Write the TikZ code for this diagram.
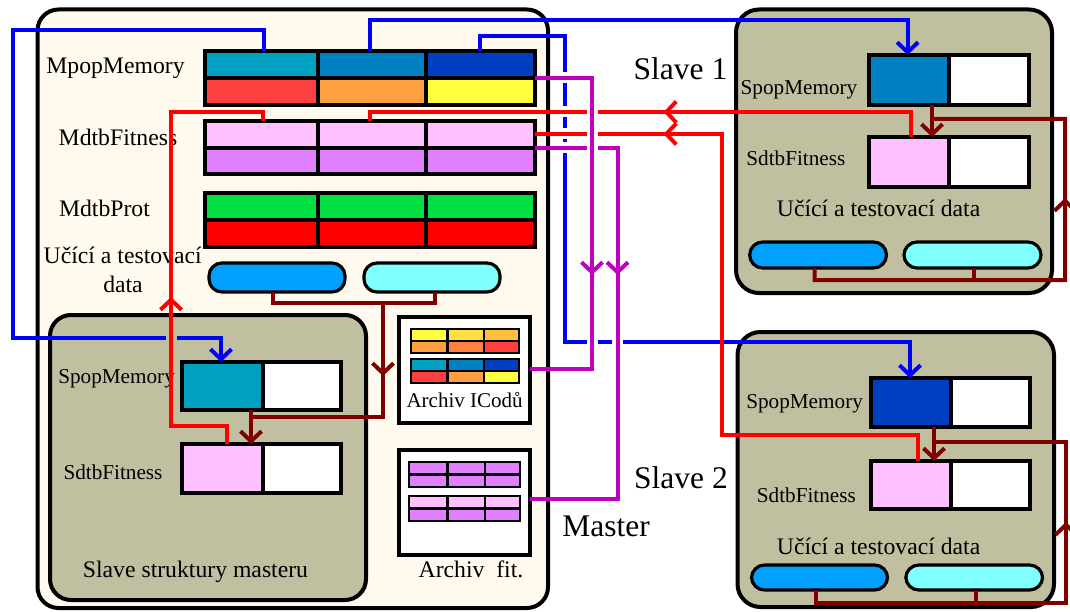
\documentclass[tikz,border=0pt]{standalone}
\usepackage{fontspec}
\setmainfont{Liberation Serif}
\usetikzlibrary{arrows.meta,fit}

\definecolor{cream}{HTML}{FFF9EE}
\definecolor{olive}{HTML}{C0C0A0}
\definecolor{tealA}{HTML}{00A0C0}
\definecolor{tealB}{HTML}{0080C0}
\definecolor{tealC}{HTML}{0040C0}
\definecolor{redA}{HTML}{FF4040}
\definecolor{orangeA}{HTML}{FFA040}
\definecolor{orangeB}{HTML}{FF8040}
\definecolor{yellowA}{HTML}{FFFF40}
\definecolor{goldA}{HTML}{FFE040}
\definecolor{goldB}{HTML}{FFC040}
\definecolor{pinkA}{HTML}{FFC0FF}
\definecolor{purpleA}{HTML}{E080FF}
\definecolor{greenA}{HTML}{00E040}
\definecolor{redB}{HTML}{FF0000}
\definecolor{pillA}{HTML}{00A0FF}
\definecolor{pillB}{HTML}{80FFFF}
\definecolor{wblue}{HTML}{0000FF}
\definecolor{wred}{HTML}{FF0000}
\definecolor{wmaroon}{HTML}{800000}
\definecolor{wmag}{HTML}{C000C0}

% one row of three coloured cells: y1 y2 x1 x2 x3 x4 c1 c2 c3
\newcommand\rowfill[9]{%
  \fill[#7] (#3,#1) rectangle (#4,#2);
  \fill[#8] (#4,#1) rectangle (#5,#2);
  \fill[#9] (#5,#1) rectangle (#6,#2);}
% outline and dividers of a 3x2 table: name x1 y1 x2 y2 xa xb ym style
\newcommand\tbldraw[9]{%
  \node[#9, fit={(#2,#3) (#4,#5)}] (#1) {};
  \draw[#9] (#6,#3) -- (#6,#5);
  \draw[#9] (#7,#3) -- (#7,#5);
  \draw[#9] (#2,#8) -- (#4,#8);}
% two-cell slave table: name x1 y1 x2 y2 xm colour
\newcommand\twocell[7]{%
  \fill[#7] (#2,#3) rectangle (#6,#5);
  \fill[white] (#6,#3) rectangle (#4,#5);
  \node[tbl, fit={(#2,#3) (#4,#5)}] (#1) {};
  \draw[tbl] (#6,#3) -- (#6,#5);}
% breaks in a lower line where another line passes over it
\newcommand\gapv[3]{\fill[#3] ({#1-2.8},{#2-5.5}) rectangle ({#1+2.8},{#2+5.5});}
\newcommand\gaph[3]{\fill[#3] ({#1-5.5},{#2-2.8}) rectangle ({#1+5.5},{#2+2.8});}

\begin{document}
\begin{tikzpicture}[x=1pt,y=-1pt,
  box/.style={draw=black, line width=4pt, rounded corners=21pt, inner sep=0pt, outer sep=0pt},
  tbl/.style={draw=black, line width=4pt, inner sep=0pt, outer sep=0pt},
  mini/.style={draw=black, line width=2.6pt, inner sep=0pt, outer sep=0pt},
  abox/.style={draw=black, line width=4.5pt, fill=white, inner sep=0pt, outer sep=0pt},
  pill/.style={draw=black, line width=3.2pt, rounded corners=13pt, inner sep=0pt, outer sep=0pt},
  wire/.style={line width=4pt},
  arrowend/.style={-{Straight Barb[length=10pt,width=21pt]}},
  lbl/.style={anchor=base, inner sep=0pt, font=\fontsize{23.7pt}{28pt}\selectfont},
  slbl/.style={anchor=base, inner sep=0pt, font=\fontsize{21.2pt}{25pt}\selectfont},
  alb/.style={anchor=base, inner sep=0pt, font=\fontsize{21pt}{25pt}\selectfont},
  big/.style={anchor=base, inner sep=0pt, font=\fontsize{31.5pt}{36pt}\selectfont}]
\useasboundingbox[fill=white] (0,0) rectangle (1070,612);

% ---------- containers ----------
\node[box, fill=cream, fit={(37.5,9.5) (548,608)}] (master) {};
\node[box, fill=olive, fit={(50,315) (366,600)}] (mslave) {};
\node[box, fill=olive, rounded corners=23pt, fit={(736,9.5) (1052,293)}] (slaveA) {};
\node[box, fill=olive, rounded corners=23pt, fit={(737.5,332) (1054,607)}] (slaveB) {};

% ---------- master tables ----------
\rowfill{51}{78}{205}{318}{426}{535}{tealA}{tealB}{tealC}
\rowfill{78}{105}{205}{318}{426}{535}{redA}{orangeA}{yellowA}
\tbldraw{mpop}{205}{51}{535}{105}{318}{426}{78}{tbl}

\rowfill{121}{148}{205}{318}{426}{535}{pinkA}{pinkA}{pinkA}
\rowfill{148}{174}{205}{318}{426}{535}{purpleA}{purpleA}{purpleA}
\tbldraw{mfit}{205}{121}{535}{174}{318}{426}{148}{tbl}

\rowfill{193}{220}{205}{318}{426}{535}{greenA}{greenA}{greenA}
\rowfill{220}{247}{205}{318}{426}{535}{redB}{redB}{redB}
\tbldraw{mprot}{205}{193}{535}{247}{318}{426}{220}{tbl}

\node[pill, fill=pillA, fit={(209,263) (345,292)}] (mdA) {};
\node[pill, fill=pillB, fit={(364,263) (500,292)}] (mdB) {};

% ---------- slave structures of the master ----------
\twocell{mspop}{182}{362}{341}{410}{262.5}{tealA}
\twocell{msfit}{182}{444}{341}{493}{262.5}{pinkA}

% ---------- archives ----------
\node[abox, fit={(399,317) (530,423)}] (arcI) {};
\rowfill{329}{341}{411}{447.5}{484}{519}{yellowA}{goldA}{goldB}
\rowfill{341}{353}{411}{447.5}{484}{519}{orangeA}{orangeB}{redA}
\tbldraw{arcIa}{411}{329}{519}{353}{447.5}{484}{341}{mini}
\rowfill{359}{371}{411}{447.5}{484}{519}{tealA}{tealB}{tealC}
\rowfill{371}{383}{411}{447.5}{484}{519}{redA}{orangeA}{yellowA}
\tbldraw{arcIb}{411}{359}{519}{383}{447.5}{484}{371}{mini}

\node[abox, fit={(399,450) (530,555)}] (arcF) {};
\rowfill{462}{474.5}{409}{447.5}{485}{520}{purpleA}{purpleA}{purpleA}
\rowfill{474.5}{487}{409}{447.5}{485}{520}{purpleA}{purpleA}{purpleA}
\tbldraw{arcFa}{409}{462}{520}{487}{447.5}{485}{474.5}{mini}
\rowfill{496}{508.5}{409}{447.5}{485}{520}{pinkA}{pinkA}{pinkA}
\rowfill{508.5}{521}{409}{447.5}{485}{520}{purpleA}{purpleA}{purpleA}
\tbldraw{arcFb}{409}{496}{520}{521}{447.5}{485}{508.5}{mini}

% ---------- slave 1 ----------
\twocell{sApop}{869}{55}{1028.6}{105}{948.6}{tealB}
\twocell{sAfit}{869}{137}{1028.6}{187}{948.6}{pinkA}
\node[pill, fill=pillA, fit={(749.7,242) (886.5,268)}] (sdA1) {};
\node[pill, fill=pillB, fit={(904,242) (1041,268)}] (sdA2) {};

% ---------- slave 2 ----------
\twocell{sBpop}{870.7}{378}{1030}{427}{950.7}{tealC}
\twocell{sBfit}{870.7}{461}{1030}{509}{950.7}{pinkA}
\node[pill, fill=pillA, fit={(751.5,565) (887.6,590)}] (sdB1) {};
\node[pill, fill=pillB, fit={(905.8,565) (1042.6,590)}] (sdB2) {};

% ---------- labels ----------
\node[lbl] (tMpop) at (115.5,74) {MpopMemory};
\node[lbl] (tMfit) at (118,145.7) {MdtbFitness};
\node[lbl] (tMprot) at (104.5,217) {MdtbProt};
\node[lbl] (tMdataA) at (122.7,264) {Učící a testovací};
\node[lbl] (tMdataB) at (123,292) {data};
\node[slbl] (tMSpop) at (116.6,383.3) {SpopMemory};
\node[slbl] (tMSfit) at (113,479) {SdtbFitness};
\node[lbl] (tMS) at (195.5,577) {Slave struktury masteru};
\node[alb] (tArcI) at (464.6,407) {Archiv ICodů};
\node[lbl] (tArcF) at (471,577) {Archiv\ \ fit.};
\node[big] (tS1) at (680.5,80) {Slave 1};
\node[big] (tS2) at (681,488) {Slave 2};
\node[big] (tMaster) at (606,536.7) {Master};
\node[slbl] (tApop) at (799,95) {SpopMemory};
\node[slbl] (tAfit) at (795.9,166) {SdtbFitness};
\node[lbl] (tAdata) at (878.6,217) {Učící a testovací data};
\node[slbl] (tBpop) at (804.6,408) {SpopMemory};
\node[slbl] (tBfit) at (806.4,502.7) {SdtbFitness};
\node[lbl] (tBdata) at (878.6,554) {Učící a testovací data};

% ---------- blue: population memory to the slaves ----------
\draw[wire, wblue, arrowend] ([xshift=59pt]mpop.north west) -- (264,30) -- (12.5,30)
  -- (12.5,338) -- (221,338) -- ([xshift=39pt]mspop.north west);
\draw[wire, wblue, arrowend] ([xshift=165pt]mpop.north west) -- (370,20) -- (907.6,20)
  -- ([xshift=38.6pt]sApop.north west);
\draw[wire, wblue, arrowend] ([xshift=275pt]mpop.north west) -- (480,36) -- (564.5,36)
  -- (564.5,342) -- (910,342) -- ([xshift=39.3pt]sBpop.north west);
\gapv{564.5}{78}{white}
\gapv{564.5}{112}{white}
\gapv{564.5}{134}{white}
\gapv{564.5}{148}{white}
\gaph{592}{342}{white}
\gaph{617.5}{342}{white}
\gaph{171}{338}{olive}

% ---------- red: fitness back to the master ----------
\draw[wire, wred] ([xshift=45pt]msfit.north west) -- (227,426) -- (171,426)
  -- (171,112) -- (263,112) -- ([xshift=58pt]mfit.north west);
\draw[wire, wred] ([xshift=42pt]sAfit.north west) -- (911,112) -- (370,112)
  -- ([xshift=165pt]mfit.north west);
\draw[wire, wred] ([xshift=47.3pt]sBfit.north west) -- (918,435) -- (721.7,435)
  -- (721.7,134) -- ([yshift=-13pt]mfit.north east);
\gaph{592}{112}{white}
\gaph{592}{134}{white}

% ---------- magenta: into the archives ----------
\draw[wire, wmag] ([yshift=-27pt]mfit.north east) -- (617.5,148) -- (617.5,499)
  -- ([yshift=-49pt]arcF.north east);
\gaph{592}{148}{white}
\draw[wire, wmag] ([yshift=-27pt]mpop.north east) -- (592,78) -- (592,369)
  -- ([yshift=-52pt]arcI.north east);

% ---------- maroon: training and test data ----------
\coordinate (mjoin) at (383,303);
\coordinate (mdrop) at (251,417);
\draw[wire, wmaroon] ([xshift=64pt]mdA.south west) -- (273,303) -- (435,303)
  -- ([xshift=71pt]mdB.south west);
\draw[wire, wmaroon] (mjoin) -- (383,417) -- (mdrop);
\draw[wire, wmaroon, arrowend] ([xshift=69pt]mspop.south west) -- ([xshift=69pt]msfit.north west);

\coordinate (ajoin) at (932,119);
\draw[wire, wmaroon] ([xshift=64.9pt]sdA1.south west) -- (814.6,280) -- (1065,280)
  -- (1065,119) -- (ajoin);
\draw[wire, wmaroon] ([xshift=70pt]sdA2.south west) -- (974,280);
\draw[wire, wmaroon, arrowend] ([xshift=63pt]sApop.south west) -- ([xshift=63pt]sAfit.north west);

\coordinate (bjoin) at (934,442);
\draw[wire, wmaroon] ([xshift=64.5pt]sdB1.south west) -- (816,603) -- (1066,603)
  -- (1066,442) -- (bjoin);
\draw[wire, wmaroon] ([xshift=70.2pt]sdB2.south west) -- (976,603);
\draw[wire, wmaroon, arrowend] ([xshift=63.3pt]sBpop.south west) -- ([xshift=63.3pt]sBfit.north west);

% ---------- direction marks along the lines ----------
\draw[wire, wred, arrowend] (171,314) -- (171,297);
\draw[wire, wred, arrowend] (681,112) -- (663.5,112);
\draw[wire, wred, arrowend] (681,134) -- (663.5,134);
\draw[wire, wmag, arrowend] (592,258) -- (592,275);
\draw[wire, wmag, arrowend] (617.5,258) -- (617.5,275);
\draw[wire, wmaroon, arrowend] (383,359) -- (383,376);
\draw[wire, wmaroon, arrowend] (1065,215) -- (1065,198);
\draw[wire, wmaroon, arrowend] (1066,539) -- (1066,522);
\end{tikzpicture}
\end{document}
